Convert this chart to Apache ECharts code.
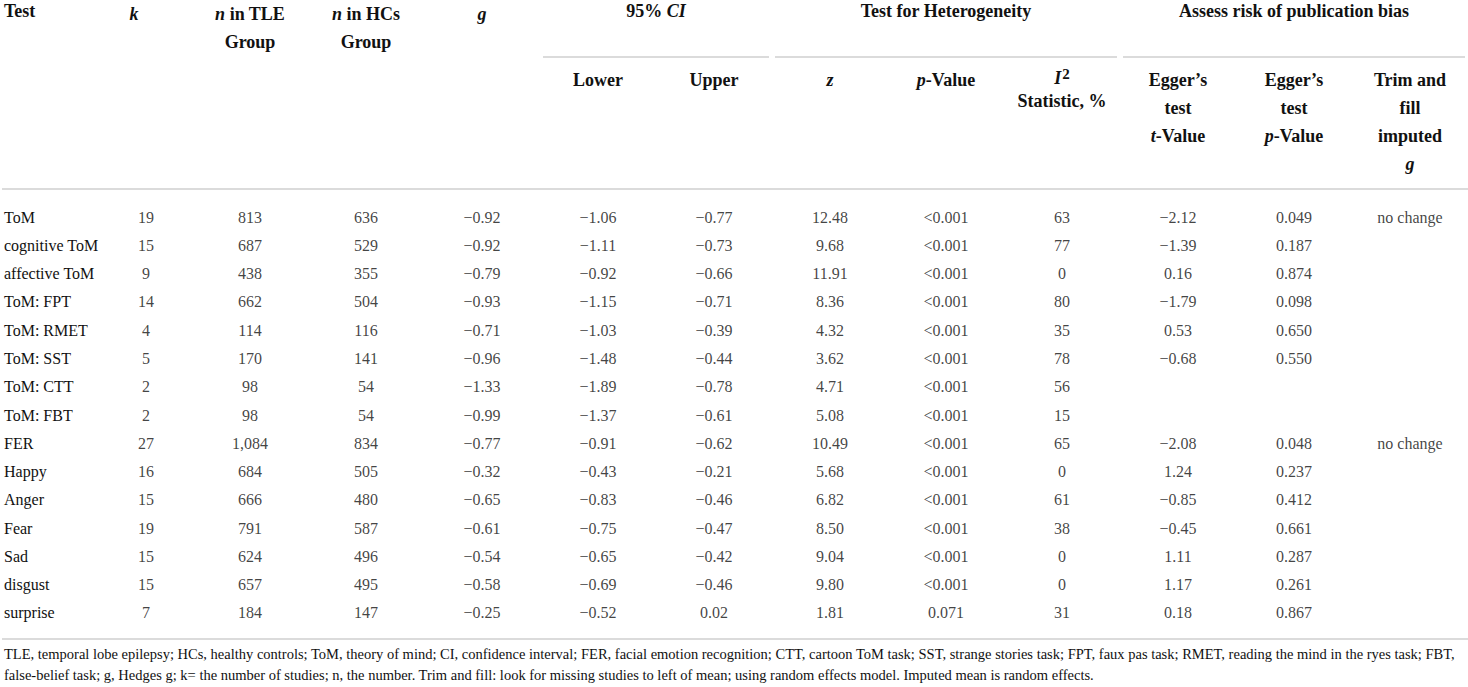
<!DOCTYPE html>
<html>
<head>
<meta charset="utf-8">
<script src="https://cdn.jsdelivr.net/npm/echarts@6/dist/echarts.min.js"></script>
<style>
html,body{margin:0;padding:0;background:#fff;}
#c{width:1468px;height:687px;}
</style>
</head>
<body>
<div id="c"></div>
<script>
// ---------- data ----------
const tests = ['ToM','cognitive ToM','affective ToM','ToM: FPT','ToM: RMET','ToM: SST','ToM: CTT','ToM: FBT','FER','Happy','Anger','Fear','Sad','disgust','surprise'];
const kVals = [19,15,9,14,4,5,2,2,27,16,15,19,15,15,7];
const nTLE = [813,687,438,662,114,170,98,98,1084,684,666,791,624,657,184];
const nHC = [636,529,355,504,116,141,54,54,834,505,480,587,496,495,147];
const gVals = [-0.92,-0.92,-0.79,-0.93,-0.71,-0.96,-1.33,-0.99,-0.77,-0.32,-0.65,-0.61,-0.54,-0.58,-0.25];
const ciLower = [-1.06,-1.11,-0.92,-1.15,-1.03,-1.48,-1.89,-1.37,-0.91,-0.43,-0.83,-0.75,-0.65,-0.69,-0.52];
const ciUpper = [-0.77,-0.73,-0.66,-0.71,-0.39,-0.44,-0.78,-0.61,-0.62,-0.21,-0.46,-0.47,-0.42,-0.46,0.02];
const zVals = [12.48,9.68,11.91,8.36,4.32,3.62,4.71,5.08,10.49,5.68,6.82,8.50,9.04,9.80,1.81];
const pVals = ['<0.001','<0.001','<0.001','<0.001','<0.001','<0.001','<0.001','<0.001','<0.001','<0.001','<0.001','<0.001','<0.001','<0.001','0.071'];
const i2Vals = [63,77,0,80,35,78,56,15,65,0,61,38,0,0,31];
const eggerT = [-2.12,-1.39,0.16,-1.79,0.53,-0.68,null,null,-2.08,1.24,-0.85,-0.45,1.11,1.17,0.18];
const eggerP = [0.049,0.187,0.874,0.098,0.650,0.550,null,null,0.048,0.237,0.412,0.661,0.287,0.261,0.867];
const trimFill = ['no change','','','','','','','','no change','','','','','',''];

const columnKeys = ['k','nTLE','nHC','g','lower','upper','z','p','i2','et','ep','trim'];
const topHeaders = ['{i|k}','{i|n} in TLE\nGroup','{i|n} in HCs\nGroup','{i|g}','','','','','','','',''];
const subHeaders = ['','','','','Lower','Upper','{i|z}','{i|p}-Value','{i2|I}{sup|2}\n{s22|Statistic, %}','Egger\u2019s\ntest\n{i|t}-Value','Egger\u2019s\ntest\n{i|p}-Value','Trim and\nfill\nimputed\n{i|g}'];
const groupHeaders = [
  {text:'95% {i|CI}', from:'lower', to:'upper'},
  {text:'Test for Heterogeneity', from:'z', to:'i2'},
  {text:'Assess risk of publication bias', from:'et', to:'trim'}
];
const firstHeader = 'Test';
const footnote = 'TLE, temporal lobe epilepsy; HCs, healthy controls; ToM, theory of mind; CI, confidence interval; FER, facial emotion recognition; CTT, cartoon ToM task; SST, strange stories task; FPT, faux pas task; RMET, reading the mind in the ryes task; FBT,\nfalse-belief task; g, Hedges g; k= the number of studies; n, the number. Trim and fill: look for missing studies to left of mean; using random effects model. Imputed mean is random effects.';

// ---------- formatting ----------
const minus = s => s.replace('-', '\u2212');
const f2 = v => v == null ? '' : minus(v.toFixed(2));
const f3 = v => v == null ? '' : minus(v.toFixed(3));
const cells = [
  kVals.map(String),
  nTLE.map(v => v.toLocaleString('en-US')),
  nHC.map(v => v.toLocaleString('en-US')),
  gVals.map(f2),
  ciLower.map(f2),
  ciUpper.map(f2),
  zVals.map(f2),
  pVals,
  i2Vals.map(String),
  eggerT.map(f2),
  eggerP.map(f3),
  trimFill
];

// ---------- style ----------
const FONT = '"Liberation Serif", "Times New Roman", serif';
const TXT = '#111';
const RULE = '#cfcfcf';
const BODY = 16;
const headRich = {
  i: {fontFamily: FONT, fontSize: 18, fontWeight: 'bold', fontStyle: 'italic', color: TXT, lineHeight: 28},
  i2: {fontFamily: FONT, fontSize: 18, fontWeight: 'bold', fontStyle: 'italic', color: TXT, lineHeight: 24},
  sup: {fontFamily: FONT, fontSize: 15, fontWeight: 'bold', color: TXT, lineHeight: 24, verticalAlign: 'top', padding: [0, 0, 6, 1]},
  s22: {fontFamily: FONT, fontSize: 18, fontWeight: 'bold', color: TXT, lineHeight: 22}
};
const headLabel = (arr) => ({
  show: true, interval: 0, margin: 0, verticalAlign: 'top', align: 'center',
  fontFamily: FONT, fontSize: 18, fontWeight: 'bold', color: TXT, lineHeight: 28,
  formatter: (v, idx) => arr[idx], rich: headRich
});

const chart = echarts.init(document.getElementById('c'), null, {renderer: 'svg'});

const GRID = {left: 76, top: 199, width: 1400, height: 428};

chart.setOption({
  animation: false,
  backgroundColor: '#fff',
  grid: Object.assign({containLabel: false}, GRID),
  xAxis: [
    {type: 'category', data: columnKeys, position: 'top', offset: GRID.top + 4,
     axisLine: {show: false}, axisTick: {show: false}, splitLine: {show: false},
     axisLabel: headLabel(topHeaders)},
    {type: 'category', data: columnKeys, position: 'top', offset: GRID.top - 62,
     axisLine: {show: false}, axisTick: {show: false}, splitLine: {show: false},
     axisLabel: headLabel(subHeaders)}
  ],
  yAxis: {
    type: 'category', data: tests, inverse: true,
    axisLine: {show: false}, axisTick: {show: false}, splitLine: {show: false},
    axisLabel: {show: true, interval: 0, align: 'left', margin: GRID.left - 4,
      fontFamily: FONT, fontSize: BODY, color: TXT}
  },
  series: columnKeys.map((key, ci) => ({
    type: 'scatter', name: key, xAxisIndex: 0, yAxisIndex: 0,
    symbolSize: 1, silent: true,
    itemStyle: {color: 'rgba(0,0,0,0)'},
    emphasis: {disabled: true},
    label: {show: true, position: 'inside', fontFamily: FONT, fontSize: BODY, color: TXT,
      offset: key === 'k' ? [12, 0] : [0, 0],
      formatter: p => p.value[2]},
    data: cells[ci].map((t, ri) => [ci, ri, t]).filter(d => d[2] !== '')
  }))
});

// ---------- header groups and rules, placed via axis scale ----------
const colX = key => chart.convertToPixel({gridIndex: 0}, [columnKeys.indexOf(key), 0])[0];
const band = colX(columnKeys[1]) - colX(columnKeys[0]);
const graphics = [];
graphics.push({type: 'text', left: 4, top: 1, style: {text: firstHeader, fontFamily: FONT, fontSize: 18, fontWeight: 'bold', fill: TXT, lineHeight: 20}});
groupHeaders.forEach(g => {
  const x0 = colX(g.from) - band / 2, x1 = colX(g.to) + band / 2;
  graphics.push({type: 'text', x: (colX(g.from) + colX(g.to)) / 2, y: 11,
    style: {text: g.text, fontFamily: FONT, fontSize: 18, fontWeight: 'bold', fill: TXT,
      align: 'center', verticalAlign: 'middle', rich: headRich}});
  graphics.push({type: 'line', shape: {x1: x0 + 3, y1: 57, x2: Math.min(x1 - 3, 1468), y2: 57},
    style: {stroke: RULE, lineWidth: 1.5}});
});
graphics.push({type: 'line', shape: {x1: 2, y1: 189, x2: 1468, y2: 189}, style: {stroke: RULE, lineWidth: 1.5}});
graphics.push({type: 'line', shape: {x1: 2, y1: 639, x2: 1468, y2: 639}, style: {stroke: RULE, lineWidth: 1.5}});
graphics.push({type: 'text', x: 4, y: 643, style: {text: footnote, fontFamily: FONT, fontSize: 14.5, fill: TXT, lineHeight: 21}});
chart.setOption({graphic: graphics});
</script>
</body>
</html>
